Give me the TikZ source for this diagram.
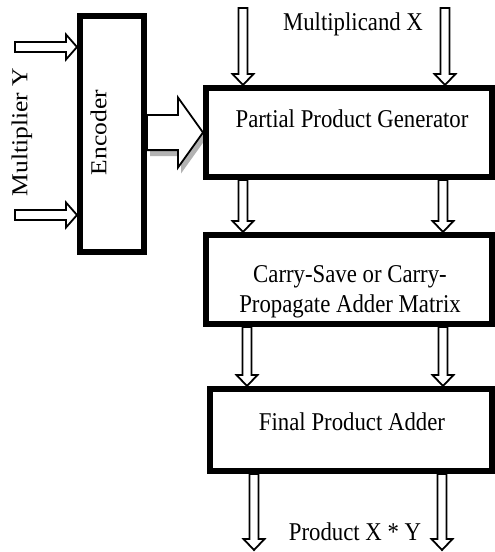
\documentclass[tikz,border=0pt]{standalone}
\usepackage{fontspec}
\setmainfont{Liberation Serif}
\newfontfamily\hfont[FakeStretch=0.89]{Liberation Serif}
\newfontfamily\vfont[FakeStretch=1.12]{Liberation Serif}
\usetikzlibrary{calc,backgrounds}
\tikzset{
  box/.style={draw, line width=6pt, fill=white, inner sep=0pt},
  htext/.style={font=\hfont\fontsize{25.6}{30}\selectfont, inner sep=0pt, align=center},
  vtext/.style={font=\vfont\fontsize{22.8}{27}\selectfont, inner sep=0pt, rotate=90},
  hollowarrow/.style={draw, line width=1.8pt, fill=white, line join=miter},
  shadowarrow/.style={fill=gray!60, draw=none, transform canvas={xshift=3pt, yshift=-6pt}},
  hollow/.style n args={3}{to path={
    ($(\tikztostart)!#1!90:(\tikztotarget)$)
    -- ($($(\tikztotarget)!#3!(\tikztostart)$)!#1!90:(\tikztotarget)$)
    -- ($($(\tikztotarget)!#3!(\tikztostart)$)!#2!90:(\tikztotarget)$)
    -- (\tikztotarget)
    -- ($($(\tikztotarget)!#3!(\tikztostart)$)!#2!-90:(\tikztotarget)$)
    -- ($($(\tikztotarget)!#3!(\tikztostart)$)!#1!-90:(\tikztotarget)$)
    -- ($(\tikztostart)!#1!-90:(\tikztotarget)$)
    -- cycle}},
  thin arrow/.style={hollow={4.5pt}{10.5pt}{11pt}},
  side arrow/.style={hollow={5pt}{12.5pt}{11pt}},
  big arrow/.style={hollow={17.6pt}{35pt}{25pt}}
}
\begin{document}
\begin{tikzpicture}[x=1pt,y=-1pt]
\useasboundingbox (0,0) rectangle (495,552);

% free ends / column markers
\coordinate (mx1) at (243,8);
\coordinate (mx2) at (445,8);
\coordinate (my1) at (15,47);
\coordinate (my2) at (15,215);
\coordinate (colA) at (243,205);
\coordinate (colB) at (443,205);
\coordinate (colC) at (247,355);
\coordinate (colD) at (443,355);
\coordinate (out1) at (254,550);
\coordinate (out2) at (442,550);

% boxes
\node[box, minimum width=64, minimum height=236] (enc) at (112,134) {};
\node[box, minimum width=286, minimum height=89] (ppg) at (349,132.5) {};
\node[box, minimum width=286, minimum height=89] (csa) at (349,279.5) {};
\node[box, minimum width=282, minimum height=82] (fpa) at (351,430) {};

% shadow of big arrow
\begin{pgfonlayer}{background}
\path[shadowarrow] (enc.east |- ppg.west) to[big arrow] (ppg.west);
\end{pgfonlayer}

% texts
\node[vtext] (mylabel) at (22,132) {Multiplier Y};
\node[vtext] (enclabel) at (98.5,132.5) {Encoder};
\node[htext, anchor=base] (mxlabel) at (353,30) {Multiplicand X};
\node[htext, anchor=base] (ppglabel) at (352,127) {Partial Product Generator};
\node[htext, anchor=base] (csalabel1) at (350,282) {Carry-Save or Carry-};
\node[htext, anchor=base] (csalabel2) at (350,312) {Propagate Adder Matrix};
\node[htext, anchor=base] (fpalabel) at (352,430) {Final Product Adder};
\node[htext, anchor=base] (outlabel) at (355,540) {Product X * Y};

% arrows
\draw[hollowarrow] (my1) to[side arrow] (my1 -| enc.west);
\draw[hollowarrow] (my2) to[side arrow] (my2 -| enc.west);
\draw[hollowarrow] (enc.east |- ppg.west) to[big arrow] (ppg.west);
\draw[hollowarrow] (mx1) to[thin arrow] (mx1 |- ppg.north);
\draw[hollowarrow] (mx2) to[thin arrow] (mx2 |- ppg.north);
\draw[hollowarrow] (colA |- ppg.south) to[thin arrow] (colA |- csa.north);
\draw[hollowarrow] (colB |- ppg.south) to[thin arrow] (colB |- csa.north);
\draw[hollowarrow] (colC |- csa.south) to[thin arrow] (colC |- fpa.north);
\draw[hollowarrow] (colD |- csa.south) to[thin arrow] (colD |- fpa.north);
\draw[hollowarrow] (out1 |- fpa.south) to[thin arrow] (out1);
\draw[hollowarrow] (out2 |- fpa.south) to[thin arrow] (out2);
\end{tikzpicture}
\end{document}
